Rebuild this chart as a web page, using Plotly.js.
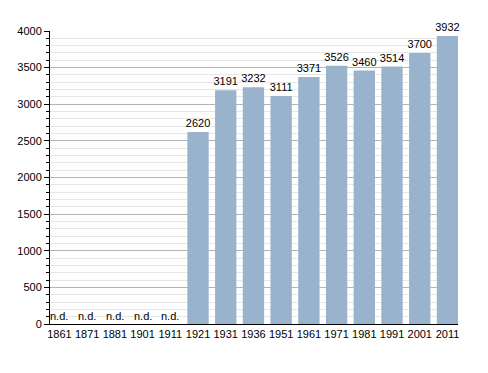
<!DOCTYPE html>
<html><head><meta charset="utf-8">
<script src="https://cdn.plot.ly/plotly-3.0.1.min.js"></script>
<style>html,body{margin:0;padding:0;background:#fff}</style>
</head><body>
<div id="chart" style="width:488px;height:373px"></div>
<script>
const years = ["1861","1871","1881","1901","1911","1921","1931","1936","1951","1961","1971","1981","1991","2001","2011"];
const population = [null,null,null,null,null,2620,3191,3232,3111,3371,3526,3460,3514,3700,3932];
const missingLabel = "n.d.";

const font = {family: "Liberation Sans, Arial, sans-serif", size: 11, color: "#000"};

const trace = {
  type: "bar",
  x: years,
  y: population,
  marker: {color: "#9ab3cd"},
  text: population.map(v => v === null ? "" : String(v)),
  textposition: "outside",
  constraintext: "none",
  cliponaxis: false,
  textfont: font,
  hoverinfo: "x+y"
};

const annotations = years.map((yr, i) => population[i] === null ? {
  x: i, y: 0, xref: "x", yref: "y", text: missingLabel, showarrow: false,
  yanchor: "bottom", yshift: 0, font: font
} : null).filter(a => a);

const layout = {
  width: 488, height: 373,
  margin: {l: 50, r: 30, t: 31, b: 49},
  paper_bgcolor: "#fff", plot_bgcolor: "#fff",
  showlegend: false,
  bargap: 0.23,
  font: font,
  xaxis: {
    type: "category",
    range: [-0.34, 14.38],
    showgrid: false,
    showline: true, linecolor: "#000", linewidth: 1,
    ticks: "", tickfont: font,
    zeroline: false
  },
  yaxis: {
    range: [0, 4000],
    tickvals: [0,500,1000,1500,2000,2500,3000,3500,4000],
    showgrid: true, gridcolor: "#b4b4b4", gridwidth: 1,
    minor: {dtick: 100, showgrid: true, gridcolor: "#e6e6e6", ticks: "outside", ticklen: 3, tickcolor: "#000"},
    showline: true, linecolor: "#000", linewidth: 1,
    ticks: "outside", ticklen: 5, tickcolor: "#000",
    tickfont: font, zeroline: false
  },
  annotations: annotations
};

Plotly.newPlot("chart", [trace], layout, {displayModeBar: false, staticPlot: true});
</script>
</body></html>
